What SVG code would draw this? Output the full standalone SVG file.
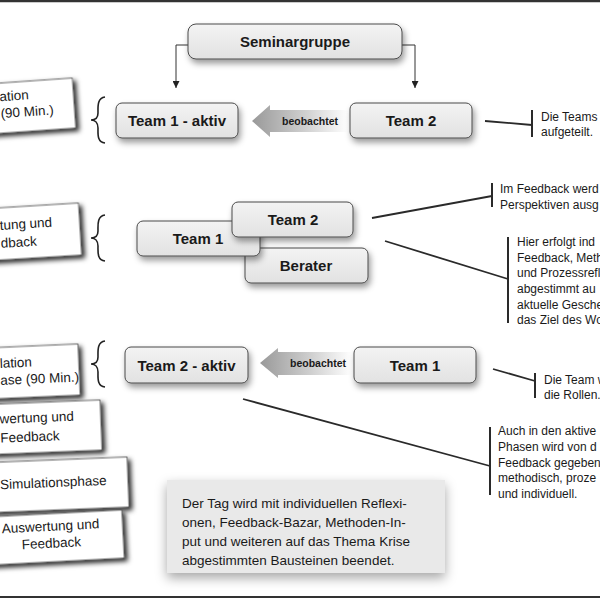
<svg xmlns="http://www.w3.org/2000/svg" xmlns:xlink="http://www.w3.org/1999/xlink" width="600" height="600" viewBox="0 0 600 600">
<defs>
<style>
.node rect{fill:url(#ng);stroke:#4a4a4a;stroke-width:1;filter:url(#ns)}
.nt{font-family:"Liberation Sans",Arial,sans-serif;font-weight:bold;font-size:15px;fill:#1a1a1a;text-anchor:middle}
.bt{font-family:"Liberation Sans",Arial,sans-serif;font-weight:bold;font-size:10.5px;fill:#1a1a1a;text-anchor:middle}
.card rect{fill:#fff;stroke:#444;stroke-width:0.8;filter:url(#cs)}
.ct{font-family:"Liberation Sans",Arial,sans-serif;font-size:13.5px;fill:#1a1a1a}
.rt{font-family:"Liberation Sans",Arial,sans-serif;font-size:12px;fill:#1a1a1a}
.ln{stroke:#2a2a2a;stroke-width:1.8;fill:none}
.br{stroke:#2a2a2a;stroke-width:2;fill:none}
.ar{stroke:#333;stroke-width:1;fill:none;marker-end:url(#ah)}
.brace{fill:none;stroke:#222;stroke-width:1.6}
</style>
<linearGradient id="ng" x1="0" y1="0" x2="0" y2="1"><stop offset="0" stop-color="#f3f3f3"/><stop offset="1" stop-color="#e2e2e2"/></linearGradient>
<linearGradient id="ag" x1="0" y1="0" x2="1" y2="0"><stop offset="0" stop-color="#999"/><stop offset="0.55" stop-color="#cfcfcf"/><stop offset="1" stop-color="#fff"/></linearGradient>
<filter id="ns" x="-20%" y="-30%" width="150%" height="180%"><feDropShadow dx="2" dy="4" stdDeviation="3" flood-color="#000" flood-opacity="0.4"/></filter>
<filter id="cs" x="-20%" y="-30%" width="150%" height="180%"><feDropShadow dx="3" dy="3" stdDeviation="2.5" flood-color="#000" flood-opacity="0.85"/></filter>
<filter id="bs" x="-20%" y="-30%" width="140%" height="170%"><feDropShadow dx="0" dy="5" stdDeviation="6" flood-color="#000" flood-opacity="0.35"/></filter>
<marker id="ah" viewBox="0 0 10 10" refX="10" refY="5" markerWidth="7" markerHeight="7" markerUnits="userSpaceOnUse" orient="auto"><path d="M0,0 L10,5 L0,10 z" fill="#222"/></marker>
<path id="brace" d="M14,0 C6,1 7,10 7,16 C7,21 4,23 0,23 C4,23 7,26 7,31 C7,37 6,45 14,46"/>
</defs>
<rect width="600" height="600" fill="#fff"/>
<line x1="0" y1="1" x2="600" y2="1" stroke="#333" stroke-width="2.5"/>
<line x1="0" y1="597" x2="600" y2="597" stroke="#333" stroke-width="1.8"/>

<!-- left cards -->
<g id="card1" class="card" transform="rotate(-4 74 103)"><rect x="-100" y="78" width="174" height="50"/><text class="ct" x="0" y="96">ation</text><text class="ct" x="0" y="113">(90 Min.)</text></g>
<g id="card2" class="card" transform="rotate(-3.5 80 229)"><rect x="-100" y="203" width="180" height="52"/><text class="ct" x="0" y="225">tung und</text><text class="ct" x="0" y="243">dback</text></g>
<g id="card3" class="card" transform="rotate(-2.5 79 369)"><rect x="-100" y="344" width="179" height="51"/><text class="ct" x="0" y="364.5">lation</text><text class="ct" x="0" y="381.5">ase (90 Min.)</text></g>
<g id="card4" class="card" transform="rotate(-2.3 101 425)"><rect x="-100" y="400" width="201" height="50"/><text class="ct" x="0" y="419.5">wertung und</text><text class="ct" x="0" y="438.5">Feedback</text></g>
<g id="card5" class="card" transform="rotate(-2.3 128 482)"><rect x="-100" y="457" width="228" height="50"/><text class="ct" x="0" y="484">Simulationsphase</text></g>
<g id="card6" class="card" transform="rotate(-3 123 534)"><rect x="-100" y="510" width="223" height="48"/><text class="ct" x="51" y="527" text-anchor="middle">Auswertung und</text><text class="ct" x="51" y="544" text-anchor="middle">Feedback</text></g>

<!-- braces -->
<g id="braces" class="brace">
<use xlink:href="#brace" href="#brace" transform="translate(91 97)"/>
<use xlink:href="#brace" href="#brace" transform="translate(91 215)"/>
<use xlink:href="#brace" href="#brace" transform="translate(91 341)"/>
</g>

<!-- connectors -->
<g id="connectors">
<polyline class="ar" points="188,45 176,45 176,88"/>
<polyline class="ar" points="402,45 415,45 415,88"/>
<g id="obs1"><polygon points="252,121 270,105 270,110 348,110 348,132 270,132 270,137" fill="url(#ag)"/><text class="bt" x="310" y="125">beobachtet</text></g>
<g id="obs2"><polygon points="260,363 278,348 278,352 352,352 352,375 278,375 278,378" fill="url(#ag)"/><text class="bt" x="318" y="367">beobachtet</text></g>
<line class="ln" x1="485" y1="121" x2="532" y2="125"/>
<line class="br" x1="532" y1="110" x2="532" y2="137"/>
<line class="ln" x1="372" y1="218" x2="492" y2="196"/>
<line class="br" x1="492" y1="183" x2="492" y2="207"/>
<line class="ln" x1="385" y1="241" x2="508" y2="279"/>
<line class="br" x1="508" y1="237" x2="508" y2="323"/>
<line class="ln" x1="493" y1="369" x2="535" y2="381"/>
<line class="br" x1="535" y1="373" x2="535" y2="398"/>
<line class="ln" x1="243" y1="399" x2="490" y2="466"/>
<line class="br" x1="490" y1="427" x2="490" y2="495"/>
</g>

<!-- nodes -->
<g id="seminargruppe" class="node"><rect x="188" y="24" width="214" height="35" rx="8"/><text class="nt" x="295" y="47">Seminargruppe</text></g>
<g id="team1aktiv" class="node"><rect x="116" y="103" width="122" height="35" rx="6"/><text class="nt" x="177" y="126">Team 1 - aktiv</text></g>
<g id="team2top" class="node"><rect x="350" y="103" width="122" height="35" rx="6"/><text class="nt" x="411" y="126">Team 2</text></g>
<g id="berater" class="node"><rect x="245" y="248" width="123" height="35" rx="6"/><text class="nt" x="306" y="271">Berater</text></g>
<g id="team1mid" class="node"><rect x="137" y="221" width="123" height="35" rx="6"/><text class="nt" x="198" y="244">Team 1</text></g>
<g id="team2mid" class="node"><rect x="232" y="202" width="121" height="35" rx="6"/><text class="nt" x="293" y="225">Team 2</text></g>
<g id="team2aktiv" class="node"><rect x="125" y="347" width="123" height="36" rx="6"/><text class="nt" x="186.5" y="371">Team 2 - aktiv</text></g>
<g id="team1bot" class="node"><rect x="354" y="347" width="122" height="36" rx="6"/><text class="nt" x="415" y="371">Team 1</text></g>

<!-- right texts -->
<g id="note1" class="rt"><text x="541" y="121">Die Teams w</text><text x="541" y="136">aufgeteilt.</text></g>
<g id="note2" class="rt"><text x="500" y="193">Im Feedback werd</text><text x="500" y="209">Perspektiven ausg</text></g>
<g id="note3" class="rt"><text x="517" y="246">Hier erfolgt ind</text><text x="517" y="261.5">Feedback, Meth</text><text x="517" y="277">und Prozessrefl</text><text x="517" y="293">abgestimmt au</text><text x="517" y="308.5">aktuelle Gesche</text><text x="517" y="324">das Ziel des Wo</text></g>
<g id="note4" class="rt"><text x="544" y="384">Die Team w</text><text x="544" y="399">die Rollen.</text></g>
<g id="note5" class="rt"><text x="498" y="435">Auch in den aktive</text><text x="498" y="451">Phasen wird von d</text><text x="498" y="466.5">Feedback gegeben</text><text x="498" y="482">methodisch, proze</text><text x="498" y="498">und individuell.</text></g>

<!-- bottom box -->
<g id="summary"><rect x="167" y="480" width="278" height="93" fill="#e9e9e9" filter="url(#bs)"/>
<g class="ct" style="font-size:13.5px"><text x="182" y="508">Der Tag wird mit individuellen Reflexi-</text><text x="182" y="527">onen, Feedback-Bazar, Methoden-In-</text><text x="182" y="546">put und weiteren auf das Thema Krise</text><text x="182" y="565">abgestimmten Bausteinen beendet.</text></g></g>
</svg>
